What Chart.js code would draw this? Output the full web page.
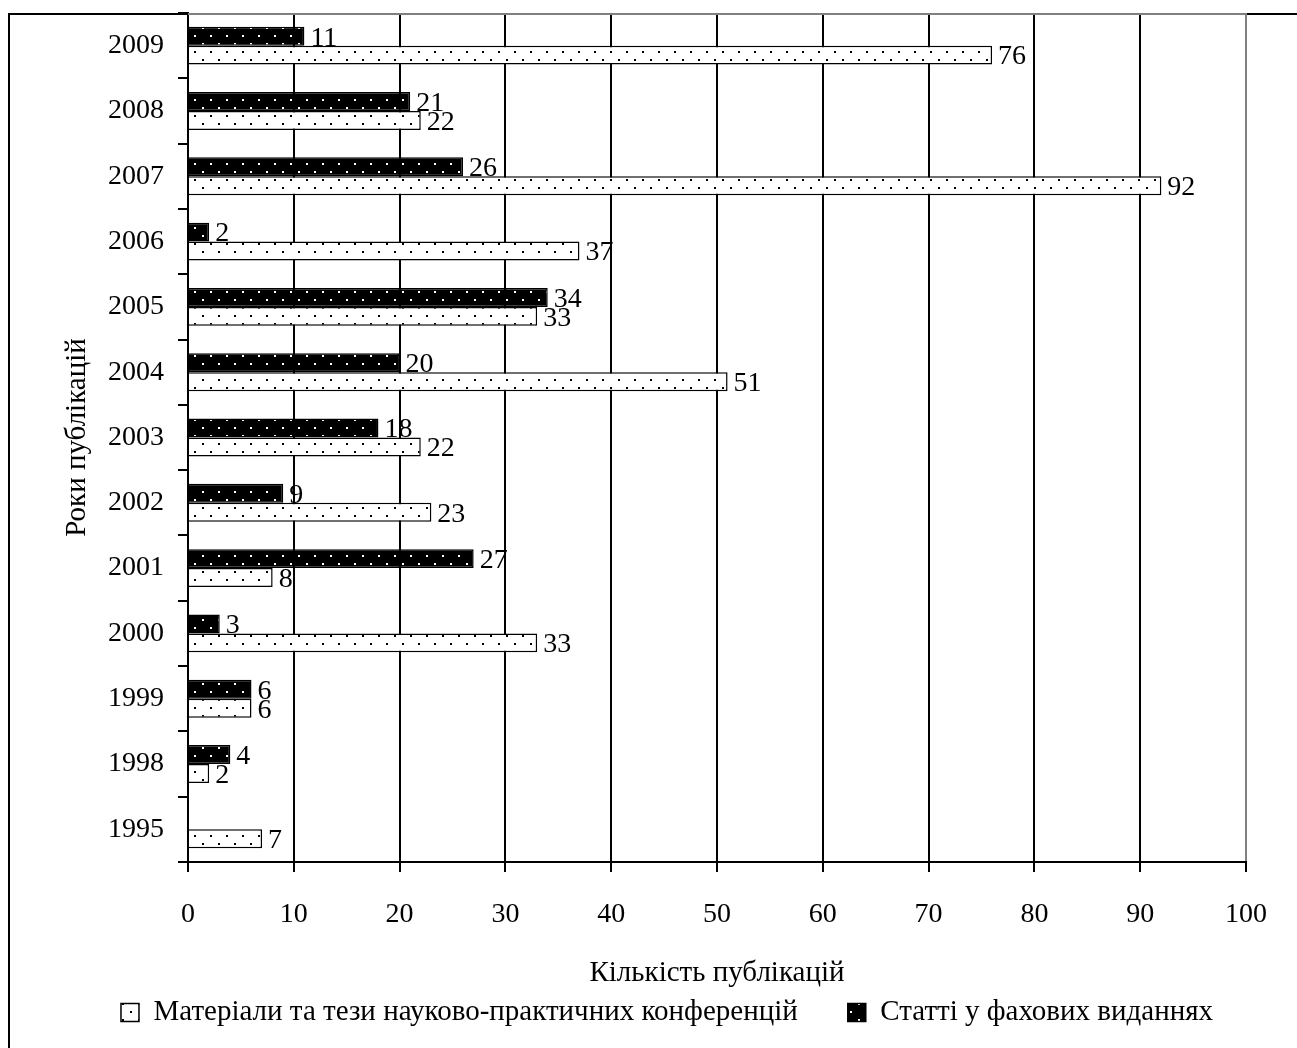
<!DOCTYPE html>
<html>
<head>
<meta charset="utf-8">
<title>Роки публікацій</title>
<script src="https://cdn.jsdelivr.net/npm/chart.js@4.4.1/dist/chart.umd.min.js"></script>
<style>
  html, body { margin: 0; padding: 0; background: #fff; }
  #chart-container { width: 1297px; height: 1048px; }
</style>
</head>
<body>
<div id="chart-container"><canvas id="pub-chart" width="1297" height="1048"></canvas></div>
<script>
// data (top to bottom)
const years = ['2009', '2008', '2007', '2006', '2005', '2004', '2003', '2002', '2001', '2000', '1999', '1998', '1995'];
const articles = [11, 21, 26, 2, 34, 20, 18, 9, 27, 3, 6, 4, null];
const materials = [76, 22, 92, 37, 33, 51, 22, 23, 8, 33, 6, 2, 7];
const xTickValues = [0, 10, 20, 30, 40, 50, 60, 70, 80, 90, 100];

const articlesLabel = 'Статті у фахових виданнях';
const materialsLabel = 'Матеріали та тези науково-практичних конференцій';
const xTitle = 'Кількість публікацій';
const yTitle = 'Роки публікацій';

const FONT = '"Liberation Serif", "Times New Roman", serif';
Chart.defaults.font.family = FONT;
Chart.defaults.font.size = 28;
Chart.defaults.color = '#000';

// dotted fills like the office chart patterns
function makeDots(bg, dot) {
    const c = document.createElement('canvas');
    c.width = 16;
    c.height = 16;
    const g = c.getContext('2d');
    g.fillStyle = bg;
    g.fillRect(0, 0, 16, 16);
    g.fillStyle = dot;
    g.fillRect(2, 3, 2, 2);
    g.fillRect(10, 11, 2, 2);
    return g.createPattern(c, 'repeat');
}

// value next to the end of each bar
const valueLabels = {
    id: 'valueLabels',
    afterDatasetsDraw(chart) {
        const ctx = chart.ctx;
        ctx.save();
        ctx.font = '28px ' + FONT;
        ctx.fillStyle = '#000';
        ctx.textBaseline = 'middle';
        ctx.textAlign = 'left';
        chart.data.datasets.forEach((ds, i) => {
            chart.getDatasetMeta(i).data.forEach((bar, j) => {
                const v = ds.data[j];
                if (v === null || v === undefined) return;
                ctx.fillText(String(v), bar.x + 6, bar.y + 2);
            });
        });
        ctx.restore();
    }
};

// outer frame, grey plot-area edge, legend nudge
const frame = {
    id: 'frame',
    afterLayout(chart) {
        chart.legend.left += 44;
        chart.legend.right += 44;
    },
    beforeDraw(chart) {
        const ctx = chart.ctx;
        ctx.save();
        ctx.strokeStyle = '#000';
        ctx.lineWidth = 2;
        ctx.beginPath();
        ctx.moveTo(9, chart.height);
        ctx.lineTo(9, 14);
        ctx.lineTo(chart.width, 14);
        ctx.stroke();
        ctx.restore();
    },
    afterDraw(chart) {
        const { left, right, top } = chart.chartArea;
        const ctx = chart.ctx;
        ctx.save();
        ctx.strokeStyle = '#808080';
        ctx.lineWidth = 2;
        ctx.beginPath();
        ctx.moveTo(left, top + 1);
        ctx.lineTo(right + 1, top + 1);
        ctx.stroke();
        ctx.restore();
    }
};

const canvas = document.getElementById('pub-chart');
new Chart(canvas, {
    type: 'bar',
    data: {
        labels: years,
        datasets: [
            {
                label: articlesLabel,
                data: articles,
                backgroundColor: makeDots('#000', '#fff'),
                borderColor: '#000',
                borderWidth: 1.5,
                categoryPercentage: 0.58,
                barPercentage: 1.0,
            },
            {
                label: materialsLabel,
                data: materials,
                backgroundColor: makeDots('#fff', '#000'),
                borderColor: '#000',
                borderWidth: 1.5,
                categoryPercentage: 0.58,
                barPercentage: 1.0,
            },
        ],
    },
    options: {
        indexAxis: 'y',
        responsive: false,
        animation: false,
        devicePixelRatio: 1,
        layout: { padding: { top: 13, right: 51, left: 0, bottom: 11 } },
        scales: {
            x: {
                min: 0,
                max: 100,
                afterBuildTicks: (scale) => { scale.ticks = xTickValues.map((v) => ({ value: v })); },
                afterFit: (scale) => {
                    scale.height = 86;
                    scale.paddingLeft = 0;
                    scale.paddingRight = 0;
                },
                border: { color: '#000', width: 2 },
                grid: {
                    color: (c) => (c.tick && c.tick.value === 100 ? '#808080' : '#000'),
                    tickColor: '#000',
                    lineWidth: 2,
                    tickLength: 10,
                },
                ticks: { padding: 26, color: '#000', maxRotation: 0 },
                title: {
                    display: true,
                    text: xTitle,
                    color: '#000',
                    font: { size: 29 },
                    padding: { top: 0, bottom: -43 },
                },
            },
            y: {
                afterFit: (scale) => {
                    scale.width = 188;
                    scale.paddingTop = 0;
                    scale.paddingBottom = 0;
                },
                border: { color: '#000', width: 2 },
                grid: {
                    offset: true,
                    drawOnChartArea: false,
                    color: '#000',
                    lineWidth: 2,
                    tickLength: 10,
                },
                ticks: { padding: 14, color: '#000' },
                title: {
                    display: true,
                    text: yTitle,
                    color: '#000',
                    font: { size: 29 },
                    padding: { top: 60, bottom: 0 },
                },
            },
        },
        plugins: {
            legend: {
                position: 'bottom',
                reverse: true,
                labels: {
                    boxWidth: 18,
                    boxHeight: 18,
                    padding: 50,
                    color: '#000',
                    font: { size: 29 },
                },
            },
            tooltip: { enabled: false },
        },
    },
    plugins: [frame, valueLabels],
});
</script>
</body>
</html>
